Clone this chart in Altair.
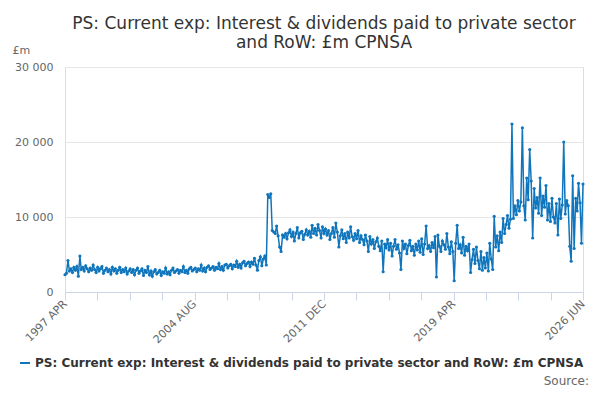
import altair as alt
import pandas as pd

v1997 = [2300,2500,4200,2800,3100,2600,3300,2900,3400]
v1998 = [2100,4800,3000,3300,2800,3500,3100,2700,3200,2900,3600,3000]
v1999 = [2600,3300,2800,3100,3400,2500,2900,3200,2700,3000,2400,3300]
v2000 = [2800,3100,2500,2900,3300,2600,3000,2700,3200,2400,2800,3100]
v2001 = [2600,3000,2300,2900,3200,2500,2800,3100,2200,2900,2600,3400]
v2002 = [2300,2800,2100,2700,3000,2400,2600,2900,2200,2700,2500,3200]
v2003 = [2400,2700,2300,2900,3200,2600,2800,3000,2500,2900,2700,3400]
v2004 = [2600,2900,2500,3100,3300,2800,3000,3200,2700,3100,2900,3600]
v2005 = [2800,3200,2700,3300,3500,3000,3200,3400,2900,3300,3100,3800]
v2006 = [3000,3400,2900,3600,3700,3200,3500,3700,3100,3600,3400,4100]
v2007 = [3300,3700,3200,3900,4100,3500,3800,4000,3400,4000,3700,4500]
v2008 = [3600,2900,4200,4700,3500,4400,4800,3600,13000,12600,13100,8200]
v2009 = [8000,7800,8800,7500,6000,5400,7600,7300,7800,7100,7900,8300]
v2010 = [7400,8000,6800,7800,8600,7200,7900,8100,7000,7700,8300,7600]
v2011 = [8100,7300,8900,7800,8500,7600,9000,8200,7200,8700,7800,8400]
v2012 = [7600,8200,7000,7800,8600,7300,9200,8000,6000,7500,8300,7100]
v2013 = [7800,6600,8000,7200,8700,7400,6900,7800,7100,8200,6600,7500]
v2014 = [7000,6300,7600,6800,5400,7400,6400,7000,5800,6700,7200,6100]
v2015 = [5500,6800,2700,6400,5900,7000,5600,6500,4800,6100,7000,5700]
v2016 = [6300,5200,3000,6800,5800,6400,5100,6200,6900,5500,6100,4900]
v2017 = [6400,5600,6800,5300,7100,5000,6400,8800,5800,6200,5400,6600]
v2018 = [5900,7400,2000,7600,6100,5400,6800,6300,5700,7800,6000,5100]
v2019 = [6700,5400,1500,6500,8900,5800,6300,5200,7300,4900,6100,5500]
v2020 = [6400,2600,4300,5700,3800,6000,4200,3100,5400,2900,4600,3200]
v2021 = [5200,2800,6500,4400,3000,10100,6000,7500,5500,8000,6600,9800]
v2022 = [7800,9000,10200,8500,9700,22400,9800,11500,10300,12200,10800,12000]
v2023 = [21900,11500,9600,15200,12300,19000,14800,7200,13800,11200,12600,10500]
v2024 = [15200,10200,12800,11300,14200,9600,11800,9400,12500,10000,9200,11800]
v2025 = [7600,12400,9800,11600,20000,10400,12200,11500,6100,4100,15500,5800]
v2026 = [12500,10800,14500,11900,6500,14400]

values = (v1997+v1998+v1999+v2000+v2001+v2002+v2003+v2004+v2005+v2006+v2007+v2008+v2009+v2010
          +v2011+v2012+v2013+v2014+v2015+v2016+v2017+v2018+v2019+v2020+v2021+v2022+v2023+v2024+v2025+v2026)
dates = pd.date_range("1997-04-01", periods=len(values), freq="MS").strftime("%Y-%m-%d").tolist()
series = "PS: Current exp: Interest & dividends paid to private sector and RoW: £m CPNSA"
df = pd.DataFrame({"date": dates, "value": values, "series": series})

tick_labels = ['1997 APR', '2004 AUG', '2011 DEC', '2019 APR', '2026 JUN']
t0 = pd.Timestamp("1997-04-01").value // 10**6
t1 = pd.Timestamp("2026-06-01").value // 10**6
tick_vals = [t0 + (t1 - t0) * i / 16 for i in range(17)]
label_expr = ("abs(datum.index*4 - round(datum.index*4)) < 0.01 ? "
              + str(tick_labels) + "[round(datum.index*4)] : ''")

color = "#0f75bc"
base = alt.Chart(df).encode(
    x=alt.X("date:T", scale=alt.Scale(type="utc", domain=[t0, t1]),
            axis=alt.Axis(title=None, values=tick_vals, labelExpr=label_expr, labelAngle=-45, labelAlign="right",
                          labelBaseline="middle", grid=False, domainColor="#ccd6eb", tickColor="#ccd6eb", tickSize=8,
                          labelColor="#666666", labelFontSize=11, labelPadding=2, labelOverlap=False, labelFlush=False)),
    y=alt.Y("value:Q", scale=alt.Scale(domain=[0, 30000]),
            axis=alt.Axis(title="£m", titleAngle=0, titleAlign="left", titleX=-53, titleY=-12, titleFontWeight="normal",
                          titleColor="#666666", titleFontSize=11, values=[0, 10000, 20000, 30000],
                          labelExpr="replace(format(datum.value, ',d'), ',', ' ')",
                          domain=False, ticks=False, gridColor="#e6e6e6", labelColor="#666666", labelFontSize=11, labelPadding=12)),
    color=alt.Color("series:N", scale=alt.Scale(range=[color]),
                    legend=alt.Legend(title=None, orient="none", legendX=-46, legendY=290, labelFontSize=12, labelFontWeight="bold",
                                      labelColor="#333333", symbolType="stroke", symbolStrokeWidth=2, labelLimit=600)),
)
line = base.mark_line(strokeWidth=1.5, point=alt.OverlayMarkDef(size=10, filled=True))
source = alt.Chart(pd.DataFrame({"t": ["Source:"]})).mark_text(align="right", baseline="middle", fontSize=12, color="#666666").encode(
    text="t:N", x=alt.value(524), y=alt.value(314))

chart = alt.layer(line, source).properties(
    width=518, height=225,
    title=alt.Title(["PS: Current exp: Interest & dividends paid to private sector", "and RoW: £m CPNSA"],
                    fontSize=17, fontWeight="normal", color="#333333", anchor="middle", offset=-8),
    autosize=alt.AutoSizeParams(type="none"), padding={"left": 57, "top": 59, "right": 9, "bottom": 100}
).configure_view(stroke=None, clip=False).configure(font="DejaVu Sans")

chart.save("out.html", embed_options={"renderer": "svg", "actions": False})
